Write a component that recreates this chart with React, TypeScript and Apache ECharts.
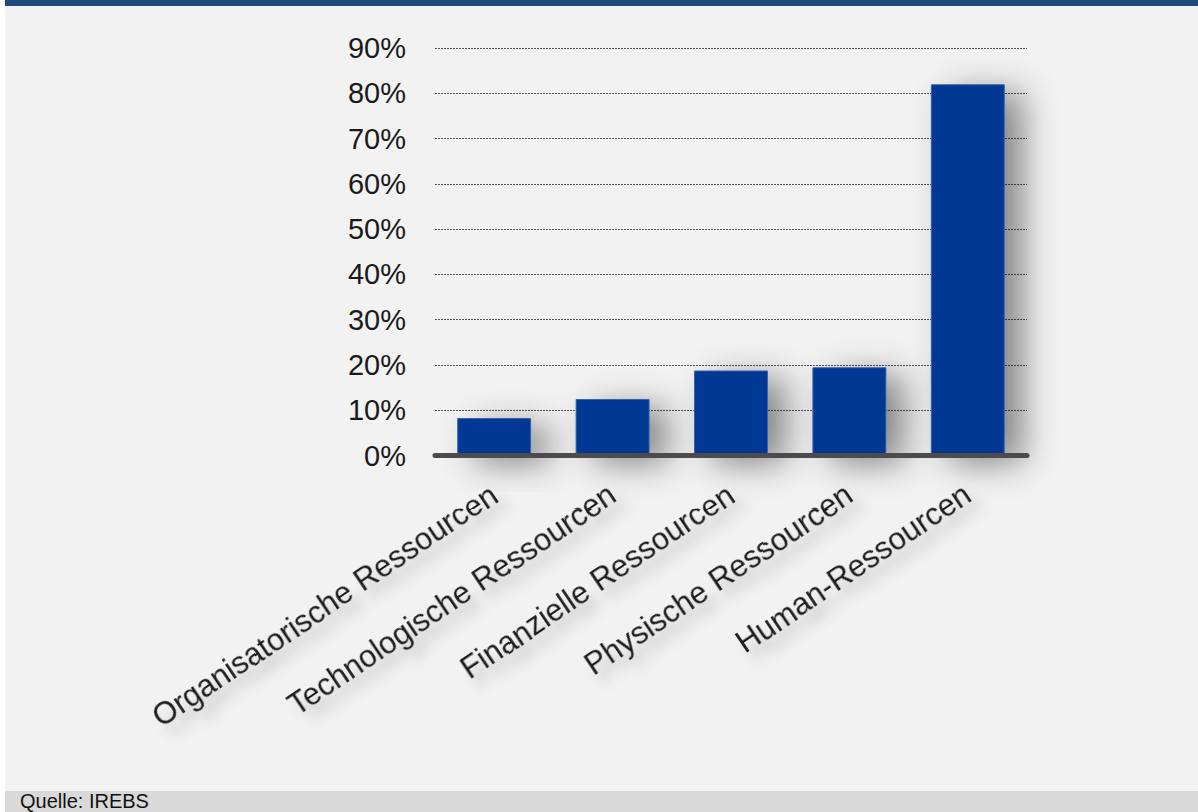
import React, { useEffect, useRef } from "react";
import * as echarts from "echarts";

const categories = [
  "Organisatorische Ressourcen",
  "Technologische Ressourcen",
  "Finanzielle Ressourcen",
  "Physische Ressourcen",
  "Human-Ressourcen",
];
const values = [8.3, 12.5, 18.8, 19.5, 82];
const sourceText = "Quelle: IREBS";

const FONT = "'Liberation Sans', Arial, Helvetica, sans-serif";

export default function App() {
  const ref = useRef<HTMLDivElement>(null);
  useEffect(() => {
    document.body.style.margin = "0";
    const chart = echarts.init(ref.current!, null, { renderer: "svg" });
    chart.setOption({
      animation: false,
      backgroundColor: "#ffffff",
      graphic: [
        { type: "rect", z: -10, shape: { x: 5, y: 0, width: 1193, height: 812 }, style: { fill: "#f2f2f2" }, silent: true },
        { type: "rect", z: -9, shape: { x: 5, y: 0, width: 1193, height: 6 }, style: { fill: "#1f497d" }, silent: true },
        { type: "rect", z: -9, shape: { x: 5, y: 791, width: 1193, height: 21 }, style: { fill: "#d9d9d9" }, silent: true },
        {
          type: "text",
          left: 20,
          top: 791,
          style: { text: sourceText, font: `20px ${FONT}`, lineHeight: 20, fill: "#111111" },
        },
      ],
      grid: { left: 435, right: 171, top: 48, bottom: 356.4, containLabel: false },
      xAxis: {
        type: "category",
        data: categories,
        z: 10,
        axisLine: {
          show: true,
          onZero: false,
          lineStyle: {
            color: "#4d4b4b",
            width: 5,
          },
        },
        axisTick: { show: false },
        axisLabel: {
          interval: 0,
          rotate: 34,
          margin: 36,
          fontFamily: FONT,
          fontSize: 31,
          color: "#1a1a1a",
          textShadowColor: "rgba(0,0,0,0.22)",
          textShadowBlur: 12,
          textShadowOffsetX: 4,
          textShadowOffsetY: 14,
        },
      },
      yAxis: {
        type: "value",
        min: 0,
        max: 90,
        interval: 10,
        axisLine: { show: false },
        axisTick: { show: false },
        axisLabel: {
          formatter: "{value}%",
          margin: 29,
          fontFamily: FONT,
          fontSize: 29,
          color: "#1a1a1a",
        },
        splitLine: {
          show: true,
          lineStyle: { color: "#555555", type: [2, 1], width: 1 },
        },
      },
      series: [
        {
          type: "bar",
          data: values,
          barCategoryGap: "37.5%",
          itemStyle: {
            color: "#003894",
            borderColor: "#3a62ad",
            borderWidth: 1,
            shadowColor: "rgba(0,0,0,0.45)",
            shadowBlur: 34,
            shadowOffsetX: 18,
            shadowOffsetY: 8,
          },
        },
      ],
    });
    return () => chart.dispose();
  }, []);
  return <div ref={ref} style={{ width: 1198, height: 812 }} />;
}
